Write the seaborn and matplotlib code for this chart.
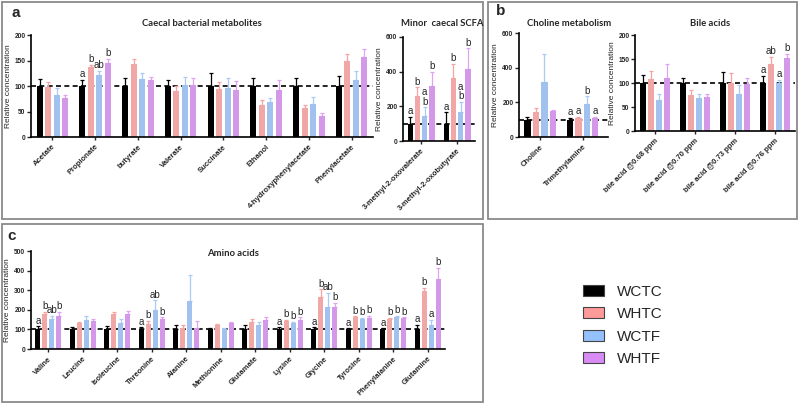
import numpy as np
import pandas as pd
import seaborn as sns
import matplotlib.pyplot as plt
from matplotlib.patches import Rectangle, Patch

groups = ['WCTC', 'WHTC', 'WCTF', 'WHTF']
colors = ['#000000', '#ff9a9a', '#94c0fb', '#d98bf5']
err_colors = ['#000000', '#f7a3a3', '#a9cbf5', '#e0a3f2']

# panel a - caecal bacterial metabolites
caecal_labels = ['Acetate', 'Propionate', 'butyrate', 'Valerate', 'Succinate',
                 'Ethanol', '4-hydroxyphenylacetate', 'Phenylacetate']
caecal_mean = {'WCTC': [100, 100, 100, 100, 100, 100, 100, 100],
               'WHTC': [98, 137, 143, 90, 95, 63, 56, 150],
               'WCTF': [83, 122, 114, 101, 97, 68, 65, 112],
               'WHTF': [77, 146, 111, 101, 93, 92, 42, 157]}
caecal_sem = {'WCTC': [13, 12, 15, 12, 25, 15, 16, 20],
              'WHTC': [9, 5, 10, 10, 12, 9, 6, 12],
              'WCTF': [13, 8, 12, 16, 18, 8, 14, 17],
              'WHTF': [5, 7, 6, 14, 17, 19, 6, 16]}
caecal_letters = {'Propionate': ['a', 'b', 'ab', 'b']}

# panel a - minor caecal SCFA
scfa_labels = ['3-methyl-2-oxovalerate', '3-methyl-2-oxobutyrate']
scfa_mean = {'WCTC': [100, 100], 'WHTC': [260, 365], 'WCTF': [145, 170], 'WHTF': [315, 415]}
scfa_sem = {'WCTC': [40, 65], 'WHTC': [50, 80], 'WCTF': [50, 55], 'WHTF': [85, 120]}
scfa_letters = {'3-methyl-2-oxovalerate': ['a', 'b', 'a\nb', 'b'],
                '3-methyl-2-oxobutyrate': ['a', 'b', 'a\nb', 'b']}

# panel b - choline metabolism
choline_labels = ['Choline', 'Trimethylamine']
choline_mean = {'WCTC': [100, 100], 'WHTC': [142, 108], 'WCTF': [319, 192], 'WHTF': [148, 108]}
choline_sem = {'WCTC': [15, 10], 'WHTC': [25, 7], 'WCTF': [160, 43], 'WHTF': [10, 10]}
choline_letters = {'Trimethylamine': ['a', 'a', 'b', 'a']}

# panel b - bile acids
bile_labels = ['bile acid @0.68 ppm', 'bile acid @0.70 ppm', 'bile acid @0.73 ppm', 'bile acid @0.76 ppm']
bile_mean = {'WCTC': [100, 100, 100, 100], 'WHTC': [108, 75, 100, 139],
             'WCTF': [64, 68, 78, 100], 'WHTF': [111, 70, 98, 153]}
bile_sem = {'WCTC': [16, 11, 22, 15], 'WHTC': [17, 10, 21, 15],
            'WCTF': [13, 10, 17, 7], 'WHTF': [28, 8, 13, 8]}
bile_letters = {'bile acid @0.76 ppm': ['a', 'ab', 'a', 'b']}

# panel c - amino acids
amino_labels = ['Valine', 'Leucine', 'Isoleucine', 'Threonine', 'Alanine', 'Methionine',
                'Glutamate', 'Lysine', 'Glycine', 'Tyrosine', 'Phenylalanine', 'Glutamine']
amino_mean = {'WCTC': [100] * 12,
              'WHTC': [178, 133, 178, 128, 105, 122, 140, 143, 265, 162, 155, 295],
              'WCTF': [152, 150, 135, 200, 245, 100, 125, 133, 215, 155, 162, 120],
              'WHTF': [168, 145, 178, 152, 105, 132, 148, 150, 215, 160, 158, 355]}
amino_sem = {'WCTC': [15, 12, 15, 10, 22, 5, 20, 10, 10, 5, 5, 25],
             'WHTC': [10, 5, 12, 14, 17, 8, 12, 5, 40, 4, 3, 17],
             'WCTF': [18, 18, 17, 48, 135, 8, 12, 4, 70, 5, 8, 28],
             'WHTF': [20, 10, 17, 10, 37, 8, 14, 12, 20, 8, 4, 60]}
amino_letters = {'Valine': ['a', 'b', 'ab', 'b'], 'Threonine': ['a', 'b', 'ab', 'b'],
                 'Lysine': ['a', 'b', 'b', 'b'], 'Glycine': ['a', 'b', 'ab', 'b'],
                 'Tyrosine': ['a', 'b', 'b', 'b'], 'Phenylalanine': ['a', 'b', 'b', 'b'],
                 'Glutamine': ['a', 'b', 'a', 'b']}

sns.set_style('ticks')
plt.rcParams['font.family'] = ['Liberation Sans', 'DejaVu Sans']

W, H = 800, 405
fig = plt.figure(figsize=(8, 4.05), dpi=100)


def add_ax(l, t, r, b):
    return fig.add_axes([l / W, 1 - b / H, (r - l) / W, (b - t) / H])


def bar_panel(ax, labels, means, sems, letters, ymax, ystep, gap, xright=None, lsize=5.5):
    rows = []
    for g in groups:
        for lab, m in zip(labels, means[g]):
            rows.append({'metabolite': lab, 'value': m, 'group': g})
    df = pd.DataFrame(rows)
    ax.axhline(100, color='black', ls=(0, (3, 2)), lw=1.2, zorder=0.5)
    sns.barplot(data=df, x='metabolite', y='value', hue='group', hue_order=groups,
                palette=colors, order=labels, gap=gap, errorbar=None, legend=False,
                linewidth=0, ax=ax, zorder=2)
    for i, g in enumerate(groups):
        bars = ax.containers[i]
        xs = np.array([b.get_x() + b.get_width() / 2 for b in bars])
        ys = np.array(means[g], dtype=float)
        es = np.array(sems[g], dtype=float)
        ax.errorbar(xs, ys, yerr=[np.zeros_like(es), es], fmt='none', ecolor=err_colors[i],
                    elinewidth=0.9, capsize=1.6, capthick=0.9, zorder=1.5)
        for j, lab in enumerate(labels):
            if lab in letters:
                ax.annotate(letters[lab][i], (xs[j], ys[j] + es[j]), xytext=(0, 0.5),
                            textcoords='offset points', ha='center', va='bottom',
                            fontsize=7, linespacing=0.9)
    ax.set_ylim(0, ymax)
    ax.set_yticks(np.arange(0, ymax + 1, ystep))
    ax.set_xlim(-0.5, xright if xright is not None else len(labels) - 0.5)
    ax.set_xlabel('')
    ax.set_ylabel('Relative concentration', fontsize=6, labelpad=2)
    ax.set_xticks(range(len(labels)))
    ax.set_xticklabels(labels, rotation=45, ha='right', rotation_mode='anchor',
                       fontsize=lsize, fontweight='bold')
    for t in ax.get_yticklabels():
        t.set_fontweight('bold')
    ax.tick_params(axis='y', labelsize=4.8, length=3, width=1, pad=1)
    ax.tick_params(axis='x', length=2.5, width=1, pad=2)
    sns.despine(ax=ax)
    for s in ['left', 'bottom']:
        ax.spines[s].set_linewidth(1.2)
        ax.spines[s].set_color('black')


ax1 = add_ax(31, 35, 373, 137)
bar_panel(ax1, caecal_labels, caecal_mean, caecal_sem, caecal_letters, 200, 50, 0.3)

ax2 = add_ax(403, 37, 475, 141)
bar_panel(ax2, scfa_labels, scfa_mean, scfa_sem, scfa_letters, 600, 200, 0.25)

ax3 = add_ax(519, 33, 608, 137)
bar_panel(ax3, choline_labels, choline_mean, choline_sem, choline_letters, 600, 200, 0.25, xright=1.6)

ax4 = add_ax(635, 35, 795, 131)
bar_panel(ax4, bile_labels, bile_mean, bile_sem, bile_letters, 200, 50, 0.3)

ax5 = add_ax(31, 251, 445, 349)
bar_panel(ax5, amino_labels, amino_mean, amino_sem, amino_letters, 500, 100, 0.25)

# titles
title_kw = dict(fontsize=6.8, fontweight='bold', ha='center', va='center', family=['Lato', 'DejaVu Sans'])
fig.text(202 / W, 1 - 24 / H, 'Caecal bacterial metabolites', **title_kw)
fig.text(442 / W, 1 - 24 / H, 'Minor  caecal SCFA', **title_kw)
fig.text(569 / W, 1 - 24 / H, 'Choline metabolism', **title_kw)
fig.text(710 / W, 1 - 24 / H, 'Bile acids', **title_kw)
fig.text(233 / W, 1 - 253 / H, 'Amino acids', **title_kw)

# panel letters
for lab, x, y in [('a', 16, 13), ('b', 501, 11), ('c', 12, 236)]:
    fig.text(x / W, 1 - y / H, lab, fontsize=11, fontweight='bold', ha='center', va='center')

# panel frames
for l, t, r, b in [(2, 2, 483, 219), (488, 2, 797, 219), (2, 224, 483, 402)]:
    fig.add_artist(Rectangle((l / W, 1 - b / H), (r - l) / W, (b - t) / H, transform=fig.transFigure,
                             fill=False, edgecolor='#8a8a8a', lw=1.3))

handles = [Patch(facecolor=c, edgecolor='#444444', lw=0.8) for c in colors]
fig.legend(handles, groups, loc='upper left', bbox_to_anchor=(569 / W, 1 - 271 / H), frameon=False,
           fontsize=11, handlelength=1.4, handleheight=0.7, labelspacing=0.55, handletextpad=0.85)

fig.savefig('out.png', dpi=100)
